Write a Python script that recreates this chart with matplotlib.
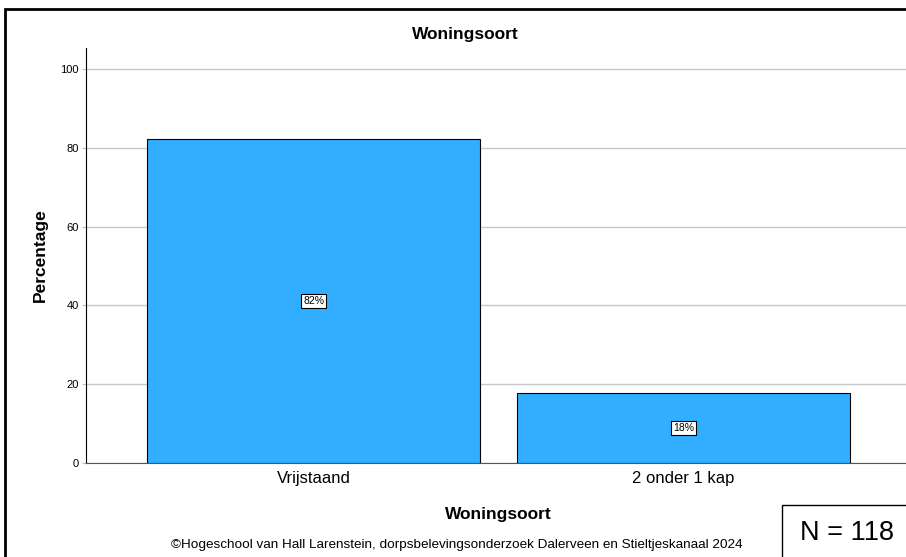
import matplotlib.pyplot as plt
from matplotlib.patches import Rectangle

plt.rcParams['font.family'] = ['Liberation Sans', 'DejaVu Sans']

categories = ['Vrijstaand', '2 onder 1 kap']
percentages = [82.2, 17.8]
labels = ['82%', '18%']
yticks = [0, 20, 40, 60, 80, 100]
n_total = 118

fig = plt.figure(figsize=(9.06, 5.57), dpi=100)
ax = fig.add_axes([86/906, 94/557, 825/906, 415/557])

x = range(len(categories))
ax.bar(x, percentages, width=0.9, color='#31AEFF', edgecolor='black', linewidth=0.8, zorder=3)

for i, (p, lab) in enumerate(zip(percentages, labels)):
    ax.text(i, p / 2, lab, ha='center', va='center', fontsize=7.5, zorder=4,
            bbox=dict(boxstyle='square,pad=0.2', facecolor='white', edgecolor='black', linewidth=0.8))

ax.set_xlim(-0.615, 1.615)
ax.set_ylim(0, 105.3)
ax.set_yticks(yticks)
ax.set_yticklabels([str(t) for t in yticks], fontsize=8)
ax.set_xticks(list(x))
ax.set_xticklabels(categories, fontsize=12)
ax.tick_params(axis='x', length=0, pad=6)
ax.tick_params(axis='y', length=3, color='#c0c0c0', pad=2)

ax.grid(axis='y', color='#c8c8c8', linewidth=1, zorder=0)
ax.spines['top'].set_visible(False)
ax.spines['right'].set_visible(False)
ax.spines['left'].set_color('black')
ax.spines['bottom'].set_color('#555555')

# titel staat iets links van het midden van de as
fig.text(465/906, 1 - 35/557, 'Woningsoort', ha='center', va='center', fontsize=12.5, weight='bold')
ax.set_ylabel('Percentage', fontsize=12.5, weight='bold', labelpad=9)
fig.text(498/906, 1 - 514/557, 'Woningsoort', ha='center', va='center', fontsize=12.5, weight='bold')
fig.text(457/906, 1 - 545/557, '©Hogeschool van Hall Larenstein, dorpsbelevingsonderzoek Dalerveen en Stieltjeskanaal 2024',
         ha='center', va='center', fontsize=9.7)

# outer frame
fig.patches.append(Rectangle((5/906, -0.1), 1.2, 1.1 - 9/557, transform=fig.transFigure,
                             fill=False, edgecolor='black', linewidth=2))
# N box
fig.patches.append(Rectangle((782/906, -0.1), 0.3, 0.1 + 52/557, transform=fig.transFigure,
                             fill=False, edgecolor='black', linewidth=1))
fig.text(847/906, 1 - 533/557, f'N = {n_total}', ha='center', va='center', fontsize=19.5)

fig.savefig('out.png', dpi=100)
